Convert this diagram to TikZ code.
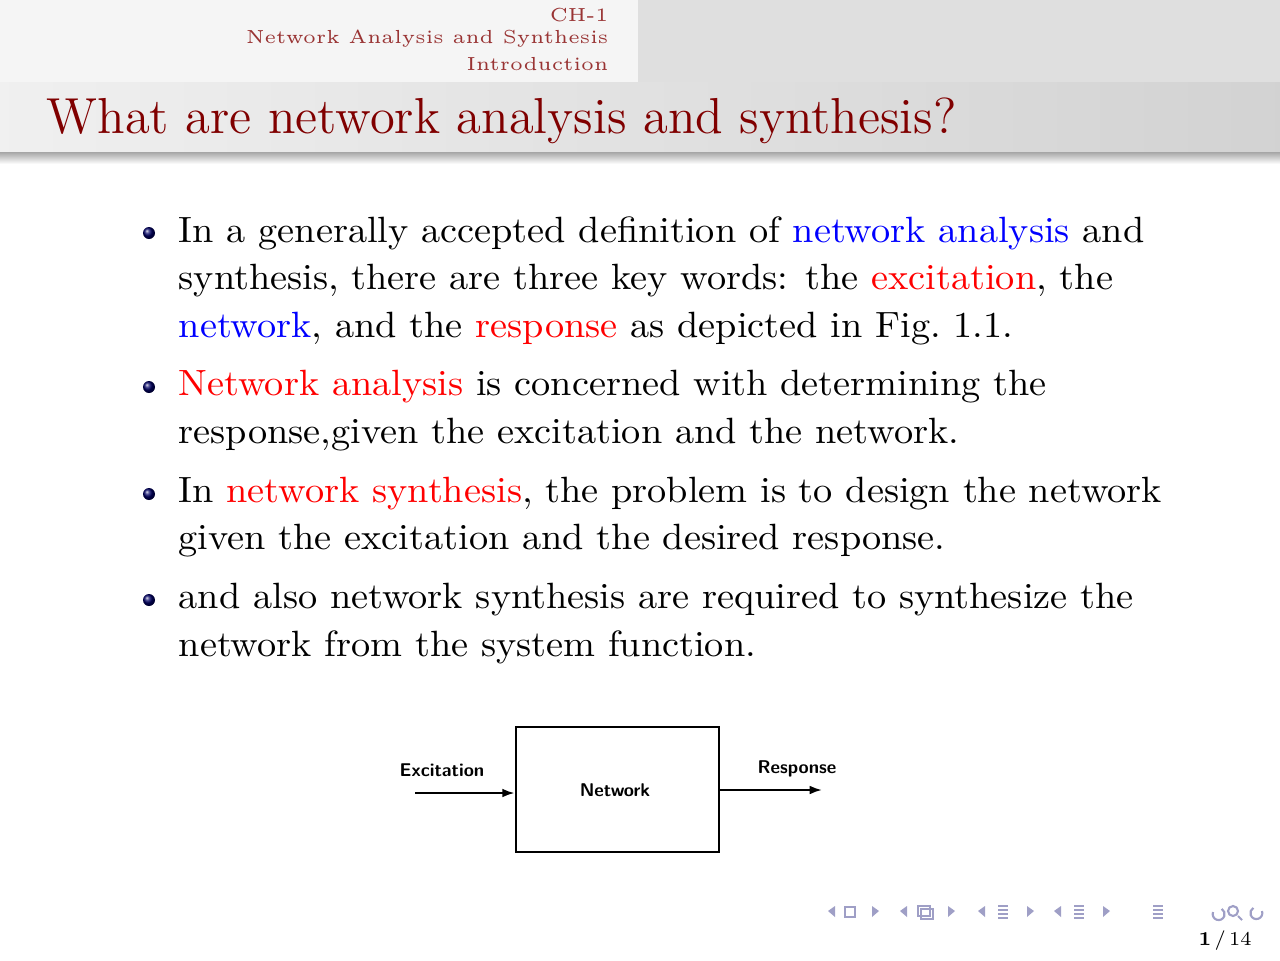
\documentclass[tikz,border=0pt]{standalone}
\usetikzlibrary{arrows.meta}
\begin{document}
\begin{tikzpicture}[x=0.02cm,y=-0.02cm,
  body/.style={anchor=west,inner sep=0,xscale=2.18,yscale=2.08,font=\fontsize{10}{12}\selectfont},
  head/.style={anchor=east,inner sep=0,scale=2.15,text=red!50!black!80,font=\fontsize{5}{6}\selectfont},
  lab/.style={inner sep=0,font=\sffamily\bfseries\fontsize{10.5}{12}\selectfont},
  navc/.style={fill=blue!25!gray!60,draw=none}]
\useasboundingbox (0,0) rectangle (1280,960);
\fill[gray!8] (0,0) rectangle (638,82);
\fill[gray!25] (638,0) rectangle (1280,82);
\shade[left color=gray!12,right color=gray!35] (0,82) rectangle (1280,152);
\shade[top color=gray!70,bottom color=white] (0,152) rectangle (1280,164);
\node[head] (h1) at (609,15) {CH-1};
\node[head] (h2) at (609,39) {Network Analysis and Synthesis};
\node[head] (h3) at (609,64) {Introduction};
\node[anchor=west,inner sep=0,scale=2.0,text=red!50!black,font=\fontsize{14.4}{17}\selectfont] (title) at (46,121) {What are network analysis and synthesis?};
\foreach \y/\n in {233/b1,387/b2,494/b3,600/b4}
  \shade[ball color=blue!40!black] (149,\y) circle (6);
\node[body] (l1) at (178,233) {In a generally accepted definition of \textcolor{blue}{network analysis} and};
\node[body] (l2) at (178,281) {synthesis, there are three key words: the \textcolor{red}{excitation}, the};
\node[body] (l3) at (178,329) {\textcolor{blue}{network}, and the \textcolor{red}{response} as depicted in Fig.~1.1.};
\node[body] (l4) at (178,387) {\textcolor{red}{Network analysis} is concerned with determining the};
\node[body] (l5) at (178,435) {response,given the excitation and the network.};
\node[body] (l6) at (178,494) {In \textcolor{red}{network synthesis}, the problem is to design the network};
\node[body] (l7) at (178,541) {given the excitation and the desired response.};
\node[body] (l8) at (178,600) {and also network synthesis are required to synthesize the};
\node[body] (l9) at (178,647) {network from the system function.};
% figure
\node[draw,line width=1.6pt,minimum width=203*0.02cm,minimum height=125*0.02cm,inner sep=0] (net) at (617.5,789.5) {};
\node[lab] (nl) at (615,790) {Network};
\node[lab] (ex) at (442,770) {Excitation};
\node[lab] (re) at (797,769) {Response};
\coordinate (ein) at (415,793);
\coordinate (rout) at (822,790);
\draw[line width=1.2pt,-{Latex[length=7pt,width=5pt]}] (ein) -- (ein -| net.west);
\draw[line width=1.2pt,-{Latex[length=7pt,width=5pt]}] (rout -| net.east) -- (rout);
% navigation
\foreach \x in {828,900,978,1054} \fill[navc] (\x,911) -- (\x+7,906) -- (\x+7,917) -- cycle;
\foreach \x in {872,948,1027,1103} \fill[navc] (\x+7,911) -- (\x,906) -- (\x,917) -- cycle;
\draw[blue!25!gray!60,line width=1pt] (845,907) rectangle (855,917);
\draw[blue!25!gray!60,line width=1pt] (918,906) rectangle (930,916) (921,909) rectangle (933,919);
\foreach \x in {1003,1079,1158}
  \foreach \d in {0,4,8,12} \fill[navc] (\x-5,905+\d) rectangle (\x+5,906.5+\d);
\draw[blue!25!gray!60,line width=1.2pt] (1213,912) arc (200:-60:6) (1233,911) circle (5) (1238,916)--(1242,920) (1262,911) arc (-20:240:6);
\node[inner sep=0,scale=1.6,font=\fontsize{7}{8}\selectfont] (pg) at (1225,941) {\textbf{1}\,/\,14};
\end{tikzpicture}
\end{document}
